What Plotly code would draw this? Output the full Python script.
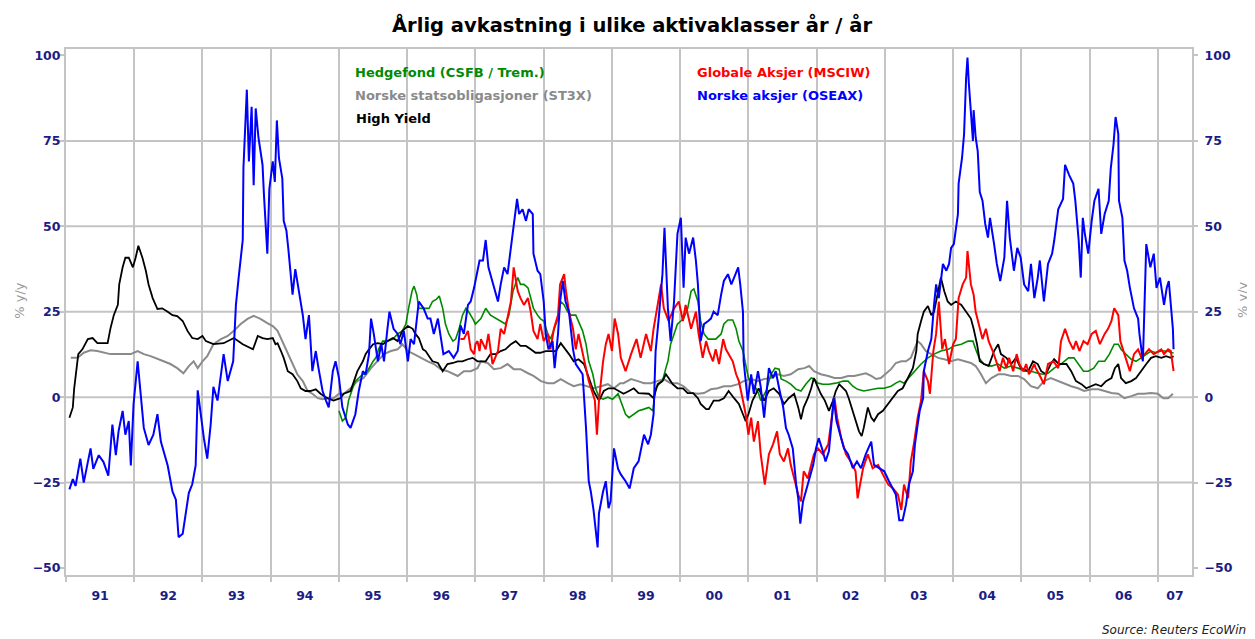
import plotly.graph_objects as go

# ---------------- data (year, % y/y) ----------------
OSEAX = [
    (1991.05, -27), (1991.10, -24), (1991.14, -26), (1991.21, -18), (1991.26, -25), (1991.36, -15),
    (1991.40, -21), (1991.48, -17), (1991.55, -19), (1991.62, -23), (1991.68, -8), (1991.73, -17),
    (1991.77, -10), (1991.83, -4), (1991.87, -11), (1991.92, -7), (1991.95, -20), (1991.99, -2),
    (1992.05, 10.5), (1992.09, 2), (1992.14, -9), (1992.21, -14), (1992.28, -11), (1992.34, -5),
    (1992.39, -13), (1992.49, -20), (1992.56, -27.6), (1992.61, -30), (1992.65, -41), (1992.71, -40),
    (1992.75, -34), (1992.80, -28), (1992.85, -25.5), (1992.90, -20), (1992.93, 2), (1992.97, -5),
    (1993.02, -12), (1993.07, -18), (1993.12, -8), (1993.16, 3), (1993.22, -1), (1993.31, 12.6),
    (1993.37, 4.7), (1993.45, 10.5), (1993.49, 27), (1993.53, 35), (1993.59, 46), (1993.60, 67),
    (1993.65, 90), (1993.68, 69), (1993.72, 85), (1993.75, 62), (1993.78, 84.5), (1993.82, 76),
    (1993.88, 68), (1993.90, 59.5), (1993.95, 42), (1993.98, 61), (1994.03, 69), (1994.06, 63),
    (1994.09, 81), (1994.12, 70), (1994.17, 64), (1994.19, 51.6), (1994.23, 48.7), (1994.26, 43),
    (1994.32, 30), (1994.36, 37.5), (1994.41, 31), (1994.47, 24), (1994.51, 17), (1994.56, 24),
    (1994.61, 7.6), (1994.66, 13.5), (1994.70, 8.5), (1994.76, 1.8), (1994.81, -1), (1994.85, -3),
    (1994.91, 7.6), (1994.95, 10.5), (1995.00, 5.6), (1995.05, -3), (1995.13, -8), (1995.17, -9),
    (1995.24, -5), (1995.29, 1.8), (1995.35, 7.6), (1995.39, 6.7), (1995.44, 12.6), (1995.47, 23),
    (1995.51, 18.5), (1995.57, 10.5), (1995.62, 15.5), (1995.66, 10.5), (1995.71, 20), (1995.74, 25),
    (1995.80, 20), (1995.86, 18.5), (1995.90, 15.5), (1995.95, 19.4), (1996.01, 10.5), (1996.05, 17),
    (1996.10, 15.5), (1996.17, 28), (1996.24, 26), (1996.30, 23), (1996.34, 23), (1996.39, 18.5),
    (1996.45, 23), (1996.49, 17), (1996.53, 12.6), (1996.61, 13.5), (1996.68, 11.5), (1996.74, 13.5),
    (1996.78, 21), (1996.83, 18.5), (1996.89, 27), (1996.93, 28), (1996.98, 32), (1997.03, 37),
    (1997.06, 40), (1997.11, 40), (1997.15, 46), (1997.19, 38), (1997.25, 34), (1997.33, 28),
    (1997.37, 33), (1997.42, 38), (1997.47, 36), (1997.52, 43.7), (1997.56, 49.6), (1997.61, 58),
    (1997.64, 53.6), (1997.69, 55), (1997.74, 51.6), (1997.78, 55), (1997.84, 53.6), (1997.85, 42),
    (1997.91, 37), (1997.95, 36), (1998.00, 28), (1998.03, 18.5), (1998.07, 14), (1998.13, 16.4),
    (1998.16, 8.5), (1998.21, 18.5), (1998.24, 28), (1998.28, 34), (1998.32, 28), (1998.37, 25),
    (1998.43, 14), (1998.47, 9.7), (1998.51, 8.5), (1998.57, 6.7), (1998.62, -9), (1998.66, -24.6),
    (1998.69, -27.6), (1998.73, -33), (1998.79, -44), (1998.81, -34), (1998.87, -27.6), (1998.91, -24.6),
    (1998.95, -32.5), (1998.98, -30.5), (1999.03, -15), (1999.09, -21), (1999.13, -22.6), (1999.20, -24.6),
    (1999.26, -26.7), (1999.32, -20.8), (1999.39, -18.8), (1999.47, -11), (1999.53, -13.8), (1999.57, -11),
    (1999.61, -5), (1999.64, 13.5), (1999.69, 24), (1999.74, 36), (1999.77, 49.6), (1999.82, 26),
    (1999.86, 16.4), (1999.91, 28), (1999.96, 47.8), (2000.01, 52.5), (2000.05, 32), (2000.08, 46.7),
    (2000.13, 42), (2000.19, 46.7), (2000.23, 40), (2000.26, 33), (2000.30, 16.4), (2000.35, 21.4),
    (2000.41, 22.3), (2000.45, 23), (2000.49, 25), (2000.55, 24), (2000.60, 30), (2000.64, 34),
    (2000.70, 36), (2000.75, 33), (2000.79, 35), (2000.85, 38), (2000.88, 33), (2000.92, 25),
    (2000.93, 10.5), (2000.99, -1), (2001.04, 6.7), (2001.08, 1), (2001.14, 7.6), (2001.18, 3),
    (2001.23, -6), (2001.30, 8.5), (2001.36, 5.6), (2001.40, 7.6), (2001.45, 2.6), (2001.51, -3),
    (2001.55, -9), (2001.59, -11), (2001.65, -15), (2001.70, -25.6), (2001.73, -29.6), (2001.76, -37),
    (2001.80, -30.5), (2001.84, -27.6), (2001.89, -23.8), (2001.95, -19.8), (2001.99, -15), (2002.03, -12),
    (2002.09, -15.8), (2002.13, -18.8), (2002.18, -15.8), (2002.24, -3), (2002.25, -0.3), (2002.29, -7),
    (2002.34, -11), (2002.40, -15), (2002.46, -16.7), (2002.53, -20.8), (2002.59, -18.8), (2002.65, -20.8),
    (2002.72, -16.7), (2002.80, -13), (2002.84, -19.8), (2002.91, -20.8), (2002.99, -21.7), (2003.06, -24.6),
    (2003.13, -27.6), (2003.16, -28.5), (2003.21, -36), (2003.26, -36), (2003.31, -31.4), (2003.35, -25.6),
    (2003.41, -21.7), (2003.44, -13.8), (2003.48, -8), (2003.51, -4), (2003.56, -0.3), (2003.57, 7.6),
    (2003.63, 13.5), (2003.68, 17), (2003.72, 27), (2003.75, 33), (2003.79, 29), (2003.85, 39),
    (2003.90, 37), (2003.94, 39), (2003.97, 43.7), (2004.01, 44.8), (2004.07, 53.6), (2004.08, 62.5),
    (2004.13, 70), (2004.16, 77), (2004.19, 93.5), (2004.21, 99.4), (2004.23, 91.8), (2004.26, 82),
    (2004.29, 75), (2004.30, 84), (2004.33, 76), (2004.36, 72), (2004.39, 60), (2004.43, 57.5),
    (2004.47, 50.7), (2004.51, 46.7), (2004.54, 52.5), (2004.60, 44.8), (2004.64, 39), (2004.69, 34),
    (2004.75, 40.8), (2004.79, 57.5), (2004.83, 46.7), (2004.89, 37), (2004.94, 43.7), (2004.99, 40.8),
    (2005.04, 33), (2005.10, 31), (2005.14, 39), (2005.19, 29), (2005.24, 35), (2005.27, 40),
    (2005.33, 28), (2005.39, 39), (2005.45, 42), (2005.48, 45.7), (2005.54, 55), (2005.61, 58),
    (2005.64, 68), (2005.70, 65), (2005.76, 62.5), (2005.79, 57.5), (2005.84, 45.7), (2005.87, 35),
    (2005.90, 52.5), (2005.93, 47.8), (2005.98, 42), (2006.03, 51.6), (2006.07, 57.5), (2006.13, 61),
    (2006.17, 47.8), (2006.22, 53.6), (2006.28, 57.5), (2006.31, 67), (2006.35, 74), (2006.38, 82),
    (2006.42, 77), (2006.43, 57.5), (2006.48, 52.5), (2006.51, 40), (2006.55, 37), (2006.59, 32),
    (2006.65, 26), (2006.71, 23), (2006.73, 18.5), (2006.78, 10.5), (2006.79, 18.5), (2006.83, 44.8),
    (2006.89, 38), (2006.94, 42), (2006.98, 32), (2007.03, 35), (2007.09, 27), (2007.13, 32),
    (2007.16, 34), (2007.19, 26), (2007.22, 20), (2007.23, 14),
]

MSCIW = [
    (1996.78, 17), (1996.83, 17), (1996.89, 19.4), (1996.93, 14), (1996.98, 12.6), (1997.00, 15.5),
    (1997.03, 16.4), (1997.06, 13.5), (1997.08, 17), (1997.15, 14), (1997.19, 18.5), (1997.25, 9.7),
    (1997.33, 13.5), (1997.37, 20), (1997.42, 18.5), (1997.47, 23), (1997.52, 28), (1997.56, 38),
    (1997.62, 31), (1997.66, 29), (1997.71, 27), (1997.77, 29), (1997.81, 25), (1997.85, 19.4),
    (1997.91, 17), (1997.95, 21.4), (1998.00, 16.4), (1998.06, 18.5), (1998.10, 14), (1998.15, 20),
    (1998.21, 24), (1998.24, 33), (1998.30, 36), (1998.32, 32), (1998.37, 25), (1998.43, 20),
    (1998.47, 14), (1998.51, 18.5), (1998.57, 12.6), (1998.62, 7.6), (1998.66, 4.7), (1998.72, 1),
    (1998.75, -1), (1998.78, -11), (1998.81, -1), (1998.87, 10.5), (1998.91, 15.5), (1998.95, 18.5),
    (1999.00, 13.5), (1999.04, 23), (1999.09, 18.5), (1999.13, 11.5), (1999.20, 7.6), (1999.28, 12.6),
    (1999.36, 17), (1999.42, 11.5), (1999.50, 18.5), (1999.57, 13.5), (1999.61, 20), (1999.67, 27),
    (1999.72, 33), (1999.76, 26), (1999.83, 22.3), (1999.91, 26), (1999.98, 28), (2000.04, 22.3),
    (2000.08, 27), (2000.16, 20), (2000.23, 25), (2000.27, 18.5), (2000.33, 11.5), (2000.38, 16.4),
    (2000.42, 13.5), (2000.48, 10.5), (2000.52, 14), (2000.57, 9.7), (2000.63, 17), (2000.67, 14),
    (2000.71, 12.6), (2000.77, 10.5), (2000.82, 6.7), (2000.86, 4.7), (2000.92, -1), (2000.96, -5),
    (2001.00, -11), (2001.04, -6), (2001.08, -13), (2001.14, -7), (2001.18, -16.7), (2001.24, -25.6),
    (2001.30, -16.7), (2001.36, -13.8), (2001.42, -10), (2001.46, -16.7), (2001.52, -18.8), (2001.58, -15),
    (2001.62, -19.8), (2001.67, -23.8), (2001.73, -28.5), (2001.77, -30.5), (2001.81, -21.7), (2001.87, -23.8),
    (2001.92, -19.8), (2001.96, -16.7), (2002.02, -15), (2002.09, -16.7), (2002.17, -13.8), (2002.21, -7),
    (2002.26, 0), (2002.30, -6), (2002.36, -12), (2002.43, -16.7), (2002.50, -18.8), (2002.57, -21.7),
    (2002.60, -29.6), (2002.68, -20.8), (2002.75, -16.7), (2002.82, -20.8), (2002.90, -19.8), (2002.97, -22.6),
    (2003.05, -25.6), (2003.12, -26.7), (2003.19, -28.5), (2003.24, -33), (2003.28, -25.6), (2003.34, -29.6),
    (2003.38, -18.8), (2003.43, -13), (2003.48, -6), (2003.53, -1), (2003.57, 7.6), (2003.63, 4.7),
    (2003.66, 1), (2003.71, 13.5), (2003.75, 18.5), (2003.79, 28), (2003.84, 14), (2003.88, 17),
    (2003.94, 9.7), (2004.00, 15.5), (2004.04, 17), (2004.08, 29), (2004.14, 33), (2004.19, 35),
    (2004.21, 42.8), (2004.26, 33), (2004.30, 30), (2004.33, 25), (2004.38, 21.4), (2004.43, 17),
    (2004.48, 20), (2004.52, 16.4), (2004.58, 13.5), (2004.63, 10.5), (2004.68, 7.6), (2004.73, 11.5),
    (2004.78, 8.5), (2004.82, 11.5), (2004.88, 7.6), (2004.93, 12.6), (2004.97, 9.7), (2005.03, 7.6),
    (2005.07, 9.7), (2005.11, 6.7), (2005.14, 7.6), (2005.19, 9.7), (2005.21, 8.5), (2005.26, 6.7),
    (2005.33, 3.8), (2005.39, 9.7), (2005.47, 10.5), (2005.54, 8.5), (2005.58, 16.4), (2005.64, 20),
    (2005.70, 16.4), (2005.76, 14), (2005.80, 16.4), (2005.85, 13.5), (2005.91, 16.4), (2005.97, 15.5),
    (2006.03, 18.5), (2006.09, 19.4), (2006.15, 15.5), (2006.22, 18.5), (2006.27, 20), (2006.32, 22.3),
    (2006.36, 26), (2006.42, 24), (2006.45, 16.4), (2006.51, 12.6), (2006.55, 9.7), (2006.59, 7.6),
    (2006.65, 12.6), (2006.71, 14), (2006.76, 11.5), (2006.81, 12.6), (2006.87, 14), (2006.94, 12.6),
    (2007.00, 13.5), (2007.05, 14), (2007.09, 12.6), (2007.15, 14), (2007.19, 13.5), (2007.22, 8.5),
    (2007.23, 7.6),
]

HEDGE = [
    (1995.00, -4), (1995.05, -7), (1995.10, -6), (1995.14, -1), (1995.20, 2.6), (1995.24, 4.7),
    (1995.29, 5.6), (1995.35, 6.7), (1995.39, 6.7), (1995.44, 8.5), (1995.50, 10.5), (1995.54, 11.5),
    (1995.58, 14), (1995.64, 16.4), (1995.71, 16.4), (1995.79, 17), (1995.86, 18.5), (1995.93, 19.4),
    (1995.98, 21.4), (1996.02, 26), (1996.07, 31), (1996.10, 32.5), (1996.14, 30), (1996.17, 26),
    (1996.24, 26), (1996.32, 26), (1996.37, 28), (1996.43, 28.7), (1996.47, 29.6), (1996.52, 26),
    (1996.56, 21.4), (1996.61, 18.5), (1996.67, 16.4), (1996.71, 17), (1996.76, 20), (1996.81, 24),
    (1996.86, 26), (1996.90, 25), (1996.96, 23), (1997.00, 21.4), (1997.08, 23), (1997.15, 26),
    (1997.22, 24), (1997.30, 23), (1997.37, 22.3), (1997.44, 21.4), (1997.49, 24), (1997.55, 31),
    (1997.62, 35), (1997.66, 33), (1997.71, 33), (1997.77, 32), (1997.81, 29), (1997.85, 26),
    (1997.91, 24), (1997.95, 23), (1998.00, 22.3), (1998.06, 18.5), (1998.10, 17), (1998.15, 20),
    (1998.21, 23), (1998.25, 28), (1998.30, 27), (1998.35, 25), (1998.40, 24), (1998.47, 24),
    (1998.51, 22.3), (1998.57, 19.4), (1998.62, 15.5), (1998.66, 10.5), (1998.72, 6.7), (1998.76, 2.6),
    (1998.81, 0), (1998.87, -0.6), (1998.94, 0), (1999.01, -0.6), (1999.09, 1), (1999.13, -1),
    (1999.20, -5), (1999.25, -6), (1999.32, -5), (1999.39, -4), (1999.47, -3.5), (1999.54, -3),
    (1999.60, -4), (1999.64, 2.6), (1999.69, 3.8), (1999.74, 4.7), (1999.79, 8.5), (1999.82, 10.5),
    (1999.86, 15.5), (1999.91, 18.5), (1999.96, 21.4), (2000.01, 22.3), (2000.05, 23), (2000.11, 26),
    (2000.16, 31), (2000.20, 31.7), (2000.23, 30), (2000.26, 28), (2000.30, 22.3), (2000.35, 18.5),
    (2000.41, 17), (2000.45, 17), (2000.52, 17), (2000.60, 18.5), (2000.64, 21.4), (2000.70, 22.6),
    (2000.77, 22.6), (2000.82, 20), (2000.86, 16.4), (2000.92, 13.5), (2000.96, 9.7), (2001.00, 5.6),
    (2001.06, 3.8), (2001.11, 2.6), (2001.15, 1), (2001.18, -1), (2001.26, 1.8), (2001.33, 6.7),
    (2001.39, 8.5), (2001.45, 8.2), (2001.48, 5.3), (2001.55, 4.7), (2001.62, 3.8), (2001.70, 2.3),
    (2001.77, 1.8), (2001.84, 3.8), (2001.92, 5.6), (2001.96, 5.3), (2002.02, 4.1), (2002.09, 3.8),
    (2002.18, 3.8), (2002.28, 4.1), (2002.39, 4.7), (2002.46, 4.7), (2002.53, 3.2), (2002.60, 2.3),
    (2002.69, 1.8), (2002.80, 2.3), (2002.90, 2.6), (2002.99, 2.6), (2003.09, 3.2), (2003.16, 4.1),
    (2003.22, 4.7), (2003.28, 4.1), (2003.35, 5.6), (2003.43, 7.6), (2003.53, 9.7), (2003.63, 11.5),
    (2003.72, 12.6), (2003.82, 13.5), (2003.93, 14), (2004.01, 15), (2004.12, 15.5), (2004.22, 16.4),
    (2004.29, 16.4), (2004.33, 14), (2004.38, 11.5), (2004.45, 9.7), (2004.56, 9.1), (2004.66, 9.7),
    (2004.75, 8.5), (2004.85, 9.1), (2004.95, 8.5), (2005.04, 7.6), (2005.14, 7.6), (2005.24, 7),
    (2005.31, 6.7), (2005.39, 7), (2005.48, 8.5), (2005.58, 9.7), (2005.69, 11.5), (2005.77, 11.5),
    (2005.83, 9.7), (2005.91, 7.6), (2005.98, 7.6), (2006.06, 8.5), (2006.13, 10.5), (2006.22, 10.5),
    (2006.29, 12.6), (2006.36, 15.5), (2006.42, 15.5), (2006.46, 14), (2006.53, 12.6), (2006.61, 11.1),
    (2006.68, 10.5), (2006.76, 11.5), (2006.83, 12.6), (2006.90, 13.5), (2006.97, 13), (2007.05, 13.5),
    (2007.15, 13.5), (2007.19, 13), (2007.23, 13),
]

HIGH_YIELD = [
    (1991.05, -6), (1991.10, -3), (1991.12, 2.6), (1991.15, 8.5), (1991.18, 12.6), (1991.24, 14),
    (1991.32, 17), (1991.39, 17.3), (1991.46, 15.8), (1991.54, 15.8), (1991.61, 15.8), (1991.65, 20),
    (1991.70, 24), (1991.76, 27), (1991.78, 33), (1991.83, 38), (1991.87, 40.8), (1991.92, 40.8),
    (1991.98, 38), (1992.02, 40.8), (1992.06, 44.3), (1992.12, 40.8), (1992.17, 37), (1992.21, 33),
    (1992.27, 29), (1992.34, 25.8), (1992.41, 26), (1992.49, 25), (1992.56, 24), (1992.63, 23.7),
    (1992.71, 22.3), (1992.78, 19.4), (1992.85, 17.3), (1992.93, 17), (1993.00, 17.9), (1993.05, 16.4),
    (1993.16, 15.5), (1993.31, 15.8), (1993.46, 17.3), (1993.59, 15.5), (1993.74, 14), (1993.81, 17.9),
    (1993.88, 17.3), (1993.95, 17), (1994.03, 17.3), (1994.07, 15.5), (1994.10, 15.8), (1994.15, 13.5),
    (1994.19, 11.5), (1994.25, 7.6), (1994.32, 6.7), (1994.39, 4.7), (1994.44, 2.6), (1994.51, 1.8),
    (1994.58, 1.8), (1994.66, 2.3), (1994.73, 1), (1994.83, -0.3), (1994.92, -1), (1995.02, -0.3),
    (1995.07, 1), (1995.17, 1.8), (1995.27, 7.6), (1995.35, 10.5), (1995.39, 12.6), (1995.44, 14),
    (1995.50, 15.5), (1995.57, 15.8), (1995.64, 15.5), (1995.71, 16.4), (1995.79, 17.3), (1995.86, 16.4),
    (1995.93, 19.4), (1996.01, 20.8), (1996.08, 20), (1996.12, 18.5), (1996.17, 17.3), (1996.23, 14),
    (1996.27, 13.5), (1996.32, 12), (1996.37, 10.5), (1996.45, 10), (1996.52, 7.6), (1996.59, 9.7),
    (1996.67, 10), (1996.74, 10.5), (1996.81, 10.5), (1996.89, 11.1), (1996.96, 11.5), (1997.03, 10.5),
    (1997.15, 10.5), (1997.22, 12.6), (1997.30, 12.6), (1997.37, 13.5), (1997.44, 14), (1997.52, 15.5),
    (1997.59, 16.4), (1997.66, 15), (1997.74, 15), (1997.81, 14), (1997.88, 13), (1997.95, 13),
    (1998.03, 13.5), (1998.10, 13.5), (1998.18, 13.5), (1998.25, 15.8), (1998.32, 14), (1998.37, 12.6),
    (1998.44, 10.5), (1998.51, 11.1), (1998.59, 9.7), (1998.66, 5.6), (1998.73, 1.8), (1998.81, -1),
    (1998.88, 1.8), (1998.95, 2.6), (1999.03, 2.6), (1999.10, 1.8), (1999.17, 1), (1999.25, 1.8),
    (1999.32, 2.6), (1999.39, 1.2), (1999.47, 1), (1999.54, 1), (1999.61, -0.3), (1999.67, 3.8),
    (1999.74, 4.7), (1999.79, 6.7), (1999.83, 5.6), (1999.89, 3.8), (1999.96, 2.6), (2000.04, 2.6),
    (2000.11, 1.2), (2000.19, 1.2), (2000.26, -0.3), (2000.30, -2), (2000.38, -3.5), (2000.42, -3.5),
    (2000.49, -1), (2000.57, -1), (2000.64, -0.3), (2000.71, 1.8), (2000.79, -0.3), (2000.86, -2),
    (2000.92, -5), (2000.96, -7), (2001.00, -5), (2001.06, -1), (2001.11, 1), (2001.15, 2.6),
    (2001.23, -1), (2001.30, 1.8), (2001.37, 2.6), (2001.45, 1), (2001.52, -2), (2001.59, -0.3),
    (2001.67, 1), (2001.73, -3), (2001.77, -6.5), (2001.81, -3), (2001.87, -0.3), (2001.92, 2.6),
    (2001.96, 5.6), (2002.02, 2.6), (2002.06, 1), (2002.12, -1), (2002.18, -4), (2002.24, -1),
    (2002.28, 1.8), (2002.33, 3.8), (2002.39, 2.6), (2002.43, 1.8), (2002.47, -0.3), (2002.53, -4),
    (2002.57, -7), (2002.62, -10), (2002.66, -11.4), (2002.69, -9), (2002.75, -3), (2002.80, -6),
    (2002.84, -7), (2002.90, -5), (2002.97, -4), (2003.05, -2), (2003.12, -0.3), (2003.19, 1.8),
    (2003.26, 2.6), (2003.34, 5.6), (2003.41, 8.5), (2003.46, 13.5), (2003.48, 18.5), (2003.53, 22.3),
    (2003.57, 25), (2003.63, 26.7), (2003.68, 24), (2003.72, 25), (2003.78, 31), (2003.82, 35),
    (2003.87, 31), (2003.92, 28), (2003.97, 27), (2004.04, 28), (2004.12, 27), (2004.19, 25),
    (2004.26, 23), (2004.30, 20), (2004.35, 15.5), (2004.39, 10.5), (2004.45, 9.7), (2004.52, 9.1),
    (2004.60, 13.5), (2004.66, 15.5), (2004.70, 12.6), (2004.78, 11.5), (2004.85, 9.7), (2004.92, 11.5),
    (2004.99, 8.5), (2005.10, 7.6), (2005.17, 10.5), (2005.24, 9.7), (2005.29, 7.6), (2005.36, 6.7),
    (2005.43, 9.7), (2005.48, 11.1), (2005.55, 9.7), (2005.66, 9.7), (2005.73, 7.6), (2005.80, 4.7),
    (2005.88, 3.8), (2005.95, 2.6), (2006.02, 3.2), (2006.09, 3.8), (2006.17, 3.2), (2006.24, 4.7),
    (2006.32, 5.6), (2006.37, 8.5), (2006.42, 9.7), (2006.46, 5.6), (2006.53, 4.1), (2006.61, 4.7),
    (2006.68, 5.6), (2006.76, 7.6), (2006.83, 9.7), (2006.90, 11.5), (2006.97, 12), (2007.05, 11.5),
    (2007.12, 12), (2007.19, 11.5), (2007.23, 12),
]

ST3X = [
    (1991.07, 11.5), (1991.17, 11.5), (1991.26, 13), (1991.36, 13.7), (1991.46, 13.5), (1991.55, 13),
    (1991.65, 12.6), (1991.76, 12.6), (1991.84, 12.6), (1991.95, 12.6), (1992.05, 13.5), (1992.14, 12.6),
    (1992.24, 12), (1992.34, 11.1), (1992.43, 10.5), (1992.53, 9.7), (1992.63, 8.5), (1992.72, 7),
    (1992.80, 9.1), (1992.87, 10.5), (1992.93, 8.5), (1993.00, 10.5), (1993.07, 12), (1993.16, 15.5),
    (1993.27, 17), (1993.37, 17.9), (1993.46, 19.4), (1993.56, 21.4), (1993.66, 22.9), (1993.75, 23.8),
    (1993.85, 22.9), (1993.95, 21.7), (1994.03, 20.8), (1994.10, 19.4), (1994.17, 16.4), (1994.25, 12.6),
    (1994.32, 9.7), (1994.39, 6.7), (1994.47, 4.7), (1994.54, 1.8), (1994.61, 1), (1994.69, -0.3),
    (1994.76, -0.6), (1994.83, -0.3), (1994.92, -0.3), (1995.00, 1), (1995.07, 1), (1995.17, 2.6),
    (1995.27, 4.7), (1995.36, 5.6), (1995.47, 8.5), (1995.57, 10.5), (1995.66, 12.6), (1995.76, 13.5),
    (1995.86, 14), (1995.93, 15.5), (1996.01, 13.5), (1996.10, 12.6), (1996.20, 11.5), (1996.30, 10.5),
    (1996.39, 9.7), (1996.49, 8.2), (1996.59, 7.6), (1996.68, 6.7), (1996.74, 6.2), (1996.83, 7.6),
    (1996.93, 7.6), (1997.03, 8.5), (1997.08, 10.5), (1997.18, 10), (1997.27, 8.2), (1997.37, 8.5),
    (1997.47, 9.7), (1997.56, 8.2), (1997.66, 8.2), (1997.77, 7), (1997.85, 6.2), (1997.96, 4.7),
    (1998.06, 4.1), (1998.15, 4.1), (1998.25, 5.3), (1998.35, 4.1), (1998.44, 3.2), (1998.54, 3.8),
    (1998.65, 3.2), (1998.73, 2.6), (1998.84, 3.2), (1998.94, 3.8), (1999.03, 2.6), (1999.12, 4.1),
    (1999.17, 4.1), (1999.28, 5.3), (1999.38, 4.7), (1999.47, 4.1), (1999.57, 4.1), (1999.67, 4.7),
    (1999.76, 5.3), (1999.86, 4.1), (1999.96, 4.1), (2000.05, 3.2), (2000.16, 1.2), (2000.26, 1),
    (2000.35, 1.2), (2000.45, 2.3), (2000.55, 2.6), (2000.64, 3.2), (2000.74, 3.2), (2000.85, 3.8),
    (2000.93, 4.7), (2001.04, 5.3), (2001.14, 4.7), (2001.23, 5.3), (2001.33, 5.6), (2001.43, 6.7),
    (2001.52, 6.2), (2001.62, 6.7), (2001.73, 8.2), (2001.82, 8.5), (2001.89, 9.1), (2001.96, 7.6),
    (2002.06, 6.7), (2002.17, 6.2), (2002.26, 5.6), (2002.36, 5.6), (2002.46, 6.2), (2002.55, 6.2),
    (2002.65, 6.7), (2002.72, 7), (2002.80, 6.2), (2002.87, 5.3), (2002.94, 5.6), (2003.02, 7),
    (2003.09, 8.2), (2003.16, 10), (2003.24, 10.5), (2003.31, 10.5), (2003.38, 11.5), (2003.43, 14),
    (2003.48, 16.4), (2003.53, 15.5), (2003.60, 13.5), (2003.68, 12.6), (2003.78, 11.5), (2003.87, 11.1),
    (2003.97, 10.5), (2004.07, 11.1), (2004.16, 10.5), (2004.26, 10), (2004.33, 9.1), (2004.40, 7),
    (2004.48, 4.1), (2004.56, 5.6), (2004.66, 6.7), (2004.75, 6.7), (2004.85, 6.2), (2004.95, 6.2),
    (2005.04, 5.3), (2005.07, 4.7), (2005.14, 3.2), (2005.24, 2.6), (2005.33, 4.7), (2005.43, 5.6),
    (2005.54, 4.7), (2005.63, 3.8), (2005.73, 3.2), (2005.83, 2.6), (2005.92, 1.8), (2006.03, 2.3),
    (2006.13, 2.3), (2006.22, 1.8), (2006.32, 1.2), (2006.42, 1), (2006.51, -0.3), (2006.61, 0.3),
    (2006.71, 1), (2006.80, 1), (2006.90, 1.2), (2007.00, 1), (2007.08, -0.3), (2007.15, -0.3),
    (2007.22, 1),
]

SERIES_NAMES = [
    "Hedgefond (CSFB / Trem.)",
    "Norske statsobligasjoner (ST3X)",
    "High Yield",
    "Globale Aksjer (MSCIW)",
    "Norske aksjer (OSEAX)",
]

YEAR_BOUNDARIES = list(range(1991, 2008))
YEAR_LABEL_POS = [1991.5, 1992.5, 1993.5, 1994.5, 1995.5, 1996.5, 1997.5, 1998.5,
                  1999.5, 2000.5, 2001.5, 2002.5, 2003.5, 2004.5, 2005.5, 2006.5, 2007.25]
YEAR_LABELS = ["91", "92", "93", "94", "95", "96", "97", "98", "99",
               "00", "01", "02", "03", "04", "05", "06", "07"]
Y_TICKS = [-50, -25, 0, 25, 50, 75, 100]
Y_GRID = [-25, 0, 25, 50, 75]

TITLE = "Årlig avkastning i ulike aktivaklasser år / år"
AXIS_TITLE = "% y/y"
SOURCE = "Source: Reuters EcoWin"

# ---------------- styling ----------------
FONT = "DejaVu Sans, Verdana, sans-serif"
NAVY = "#1c1c84"
GRID = "#c4c4c4"
COLORS = {
    "Hedgefond (CSFB / Trem.)": "#008a00",
    "Norske statsobligasjoner (ST3X)": "#8a8a8a",
    "High Yield": "#000000",
    "Globale Aksjer (MSCIW)": "#ff0000",
    "Norske aksjer (OSEAX)": "#0000ff",
}
WIDTHS = {
    "Hedgefond (CSFB / Trem.)": 1.6,
    "Norske statsobligasjoner (ST3X)": 2.0,
    "High Yield": 1.8,
    "Globale Aksjer (MSCIW)": 2.0,
    "Norske aksjer (OSEAX)": 2.0,
}
DATA = {
    "Hedgefond (CSFB / Trem.)": HEDGE,
    "Norske statsobligasjoner (ST3X)": ST3X,
    "High Yield": HIGH_YIELD,
    "Globale Aksjer (MSCIW)": MSCIW,
    "Norske aksjer (OSEAX)": OSEAX,
}
# OSEAX is drawn on the right-hand axis (same scale) so it sits on top and the right axis renders
AXIS_OF = {"Norske aksjer (OSEAX)": "y2"}
DRAW_ORDER = [
    "Norske statsobligasjoner (ST3X)",
    "Hedgefond (CSFB / Trem.)",
    "High Yield",
    "Globale Aksjer (MSCIW)",
    "Norske aksjer (OSEAX)",
]
LEGEND_POS = {
    "Hedgefond (CSFB / Trem.)": (0.2546, 0.9553),
    "Norske statsobligasjoner (ST3X)": (0.2546, 0.9115),
    "High Yield": (0.2558, 0.8677),
    "Globale Aksjer (MSCIW)": (0.5586, 0.9553),
    "Norske aksjer (OSEAX)": (0.5586, 0.9115),
}

X_RANGE = [1991.0, 2007.5]
Y_RANGE = [-52.05, 101.9]

fig = go.Figure()
for name in DRAW_ORDER:
    pts = DATA[name]
    fig.add_trace(go.Scatter(
        x=[p[0] for p in pts], y=[p[1] for p in pts],
        mode="lines", name=name, yaxis=AXIS_OF.get(name, "y"),
        line=dict(color=COLORS[name], width=WIDTHS[name]),
        showlegend=False, hoverinfo="x+y+name",
    ))

tick_font = dict(family=FONT, size=12.5, color=NAVY, weight="bold")

# page body has an 8px margin: the figure is sized so it fills the 1255x639 window
fig.update_layout(
    width=1247, height=631,
    margin=dict(l=58, r=63, t=41, b=64),
    paper_bgcolor="white", plot_bgcolor="white",
    title=dict(text=TITLE, x=0.5027, xref="paper", xanchor="center",
               y=1 - 17 / 631, yref="container", yanchor="middle",
               font=dict(family=FONT, size=19.5, color="#000000", weight="bold")),
    xaxis=dict(range=X_RANGE, tickmode="array", tickvals=YEAR_LABEL_POS, ticktext=YEAR_LABELS,
               ticks="", showgrid=False, zeroline=False, tickfont=tick_font,
               ticklabelstandoff=8,
               minor=dict(tickmode="array", tickvals=YEAR_BOUNDARIES, ticks="outside",
                          ticklen=5, tickwidth=2, tickcolor=GRID,
                          showgrid=True, gridcolor=GRID, gridwidth=2),
               showline=True, linecolor=GRID, linewidth=2, mirror=True),
    yaxis=dict(range=Y_RANGE, tickmode="array", tickvals=Y_TICKS,
               ticks="outside", ticklen=5, tickwidth=2, tickcolor=GRID,
               showgrid=False, zeroline=False, showline=True, linecolor=GRID,
               linewidth=2, mirror=True, tickfont=tick_font, ticklabelstandoff=-4),
    yaxis2=dict(range=Y_RANGE, overlaying="y", anchor="x", side="right", tickmode="array",
                tickvals=Y_TICKS, ticks="outside", ticklen=5, tickwidth=2, tickcolor=GRID,
                showgrid=False, zeroline=False, showline=False, tickfont=tick_font,
                ticklabelstandoff=4),
)

# horizontal gridlines at the inner y ticks (not at the -50 / 100 frame ticks)
for v in Y_GRID:
    fig.add_shape(type="line", xref="paper", yref="y", x0=0, x1=1, y0=v, y1=v,
                  line=dict(color=GRID, width=2), layer="below")

annotations = []
for name in SERIES_NAMES:
    xp, yp = LEGEND_POS[name]
    annotations.append(dict(text=name, x=xp, y=yp, xref="paper", yref="paper",
                            xanchor="left", yanchor="middle", showarrow=False,
                            font=dict(family=FONT, size=13, color=COLORS[name], weight="bold")))
for xp in (-0.0409, 1.0455):
    annotations.append(dict(text=AXIS_TITLE, x=xp, y=0.5233, xref="paper", yref="paper",
                            xanchor="center", yanchor="middle", showarrow=False, textangle=-90,
                            font=dict(family=FONT, size=13, color="#999999")))
annotations.append(dict(text=SOURCE, x=1.0497, y=-0.1047, xref="paper", yref="paper",
                        xanchor="right", yanchor="middle", showarrow=False,
                        font=dict(family=FONT, size=12, color="#222222", style="italic")))
fig.update_layout(annotations=annotations)

fig.write_html("out.html")
